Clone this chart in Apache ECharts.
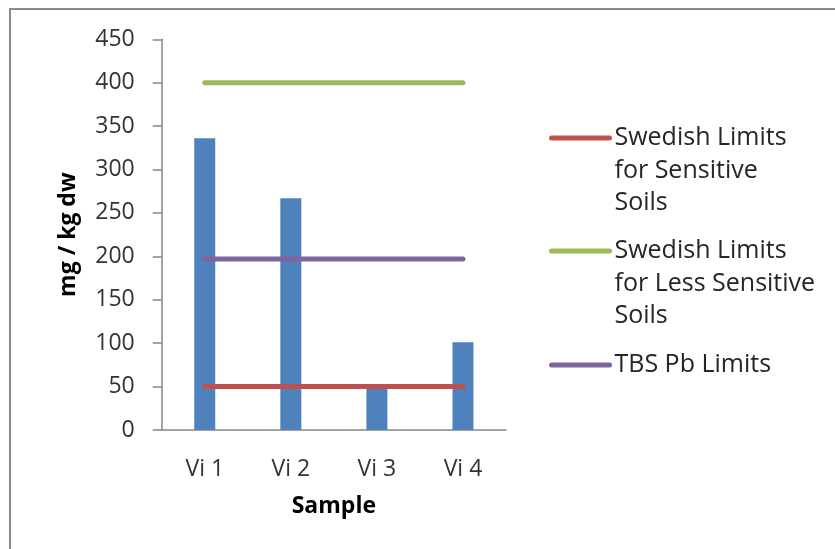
<!DOCTYPE html>
<html>
<head>
<meta charset="utf-8">
<script src="https://cdn.jsdelivr.net/npm/echarts@6/dist/echarts.min.js"></script>
<style>
  html, body { margin: 0; padding: 0; background: #fff; }
  #chart { width: 835px; height: 549px; }
</style>
</head>
<body>
<div id="chart"></div>
<script>
// Lead (Pb) concentration per sample, mg / kg dry weight
const samples = ['Vi 1', 'Vi 2', 'Vi 3', 'Vi 4'];
const leadValues = [336, 267, 49, 101];

// Guideline limits, one value per sample so the lines span all categories
const swedishSensitive = [50, 50, 50, 50];
const swedishLessSensitive = [400, 400, 400, 400];
const tbsLimits = [197, 197, 197, 197];

const seriesNames = [
  'Swedish Limits\nfor Sensitive\nSoils',
  'Swedish Limits\nfor Less Sensitive\nSoils',
  'TBS Pb Limits'
];

const FONT = '"Open Sans", "Noto Sans", sans-serif';
const LINE_H = 32.5;
const ITEM_H = 14;

const chart = echarts.init(document.getElementById('chart'), null, { renderer: 'canvas' });

function limitLine(name, data, color) {
  return {
    name: name,
    type: 'line',
    data: data,
    symbol: 'none',
    z: 3,
    lineStyle: { color: color, width: 5, cap: 'round' },
    itemStyle: { color: color },
    emphasis: { disabled: true },
    animation: false
  };
}

// One legend block per entry. Legend text is centred on its icon, so
// multi-line names get leading blank lines to keep the icon on the first line.
function legendBlock(name, iconY) {
  const lines = name.split('\n').length;
  const pad = lines - 1;
  const totalLines = lines + pad;
  const halfText = totalLines * LINE_H / 2;
  const blockTop = ITEM_H / 2 - Math.max(halfText, ITEM_H / 2);
  return {
    data: [name],
    orient: 'vertical',
    left: 549,
    top: iconY - ITEM_H / 2 + blockTop,
    padding: 0,
    itemWidth: 58,
    itemHeight: ITEM_H,
    selectedMode: false,
    lineStyle: { width: 5, cap: 'round' },
    itemStyle: { opacity: 0, borderWidth: 0 },
    formatter: function (n) { return '\n'.repeat(pad) + n; },
    textStyle: {
      fontFamily: FONT,
      fontSize: 25,
      color: '#262626',
      lineHeight: LINE_H
    }
  };
}

const option = {
  backgroundColor: '#ffffff',
  animation: false,
  graphic: [{
    type: 'rect',
    shape: { x: 10, y: 9, width: 900, height: 600 },
    style: { fill: 'none', stroke: '#8a8a8a', lineWidth: 2 },
    silent: true,
    z: 100
  }],
  legend: [
    legendBlock(seriesNames[0], 138),
    legendBlock(seriesNames[1], 251),
    legendBlock(seriesNames[2], 365)
  ],
  grid: { left: 161.7, right: 329, top: 39.3, bottom: 119 },
  xAxis: {
    type: 'category',
    data: samples,
    name: 'Sample',
    nameLocation: 'middle',
    nameGap: 65,
    nameTextStyle: { fontFamily: FONT, fontSize: 23, fontWeight: 'bold', color: '#000' },
    axisLine: { lineStyle: { color: '#868686', width: 1.5 } },
    axisTick: { show: false },
    axisLabel: { fontFamily: FONT, fontSize: 23, color: '#333333', margin: 28 }
  },
  yAxis: {
    type: 'value',
    min: 0,
    max: 450,
    interval: 50,
    name: 'mg / kg dw',
    nameLocation: 'middle',
    nameRotate: 90,
    nameGap: 82,
    nameTextStyle: { fontFamily: FONT, fontSize: 23, fontWeight: 'bold', color: '#000' },
    axisLine: { show: true, lineStyle: { color: '#868686', width: 1.5 } },
    axisTick: { show: true, length: 9, lineStyle: { color: '#868686', width: 1.5 } },
    splitLine: { show: false },
    axisLabel: { fontFamily: FONT, fontSize: 23, color: '#333333', margin: 27 }
  },
  series: [
    {
      name: 'Pb',
      type: 'bar',
      data: leadValues,
      barWidth: 21,
      z: 2,
      itemStyle: { color: '#4F81BD' },
      emphasis: { disabled: true }
    },
    limitLine(seriesNames[0], swedishSensitive, '#C0504D'),
    limitLine(seriesNames[1], swedishLessSensitive, '#9BBB59'),
    limitLine(seriesNames[2], tbsLimits, '#8064A2')
  ]
};

chart.setOption(option);
</script>
</body>
</html>
